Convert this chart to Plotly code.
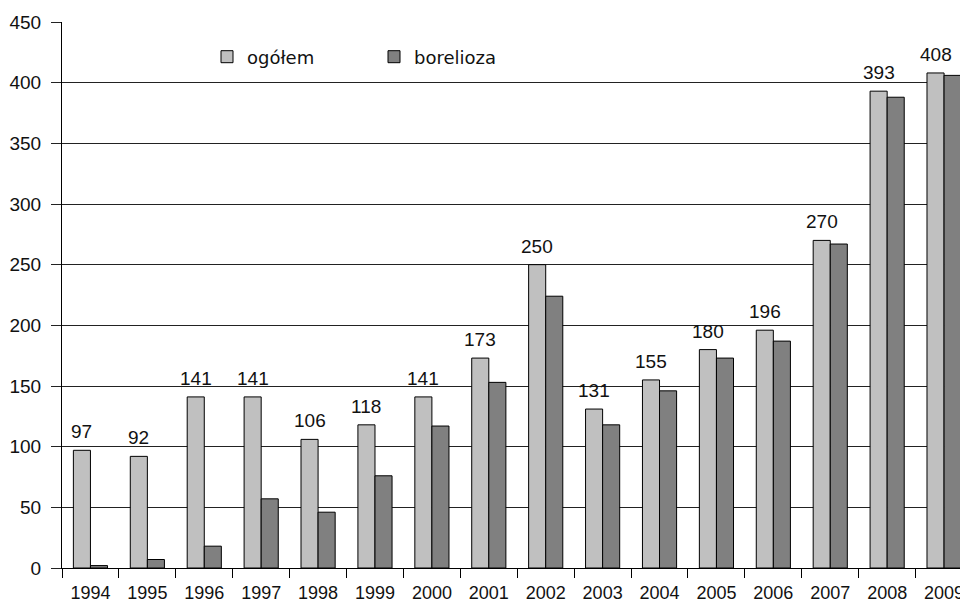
import plotly.graph_objects as go

years = ["1994", "1995", "1996", "1997", "1998", "1999", "2000", "2001",
         "2002", "2003", "2004", "2005", "2006", "2007", "2008", "2009"]
ogolem = [97, 92, 141, 141, 106, 118, 141, 173, 250, 131, 155, 180, 196, 270, 393, 408]
borelioza = [2, 7, 18, 57, 46, 76, 117, 153, 224, 118, 146, 173, 187, 267, 388, 406]
y_ticks = [0, 50, 100, 150, 200, 250, 300, 350, 400, 450]

AX_FONT = "Liberation Sans, Arial, Helvetica, sans-serif"
BAR_W = 0.3           # each bar = 30% of a category (bargap 0.4, two bars)
X_RANGE = [-0.5, 15.28]
PLOT_W = 960 - 62
px_per_cat = PLOT_W / (X_RANGE[1] - X_RANGE[0])

fig = go.Figure()
fig.add_trace(go.Bar(
    x=years, y=ogolem, name="ogółem",
    marker=dict(color="#c0c0c0", line=dict(color="#000000", width=1)),
))
fig.add_trace(go.Bar(
    x=years, y=borelioza, name="borelioza",
    marker=dict(color="#808080", line=dict(color="#000000", width=1)),
))

# value labels above the "ogółem" bars (x given as category index)
for i, v in enumerate(ogolem):
    fig.add_annotation(
        x=i, y=v, xref="x", yref="y", text=str(v), showarrow=False,
        xanchor="center", yanchor="bottom",
        xshift=-BAR_W / 2 * px_per_cat, yshift=6,
        font=dict(family=AX_FONT, size=19, color="#111111"),
    )

fig.update_layout(
    width=960, height=604,
    margin=dict(l=62, r=0, t=22, b=36, autoexpand=False),
    paper_bgcolor="white", plot_bgcolor="white",
    barmode="group", bargap=0.4, bargroupgap=0,
    showlegend=True,
    legend=dict(
        orientation="h", x=(207 - 62) / PLOT_W, xanchor="left",
        y=1 - 35 / 546, yanchor="middle",
        entrywidth=122, entrywidthmode="pixels",
        font=dict(family="DejaVu Sans, sans-serif", size=18, color="#111111"),
        bgcolor="rgba(0,0,0,0)", borderwidth=0,
    ),
    xaxis=dict(
        type="category", range=X_RANGE, automargin=False,
        showline=True, linecolor="#000000", linewidth=1,
        ticks="outside", tickson="boundaries", ticklen=9, tickcolor="#000000",
        ticklabelstandoff=8,
        tickfont=dict(family=AX_FONT, size=18, color="#111111"),
        showgrid=False, zeroline=False,
    ),
    yaxis=dict(
        range=[0, 450], tickvals=y_ticks, automargin=False,
        showline=True, linecolor="#000000", linewidth=1,
        ticks="outside", ticklen=10, tickcolor="#222222",
        ticklabelstandoff=6,
        showgrid=True, gridcolor="#222222", gridwidth=1,
        tickfont=dict(family=AX_FONT, size=19, color="#111111"),
        zeroline=False,
    ),
)

fig.write_html("out.html")
